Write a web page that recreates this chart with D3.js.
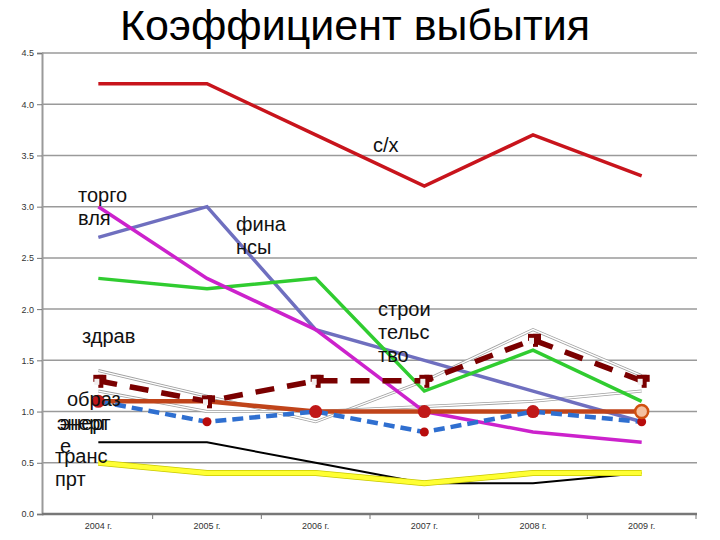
<!DOCTYPE html>
<html lang="ru">
<head>
<meta charset="UTF-8">
<title>Коэффициент выбытия</title>
<script src="https://cdn.jsdelivr.net/npm/d3@7"></script>
<style>
  body { margin: 0; background: #fff; }
  text { font-family: "Liberation Sans", Arial, sans-serif; }
</style>
</head>
<body>
<script>
    const years = ['2004 г.', '2005 г.', '2006 г.', '2007 г.', '2008 г.', '2009 г.']
    const yTicks = [0, 0.5, 1, 1.5, 2, 2.5, 3, 3.5, 4, 4.5]

    const sx = [4.2, 4.2, 3.7, 3.2, 3.7, 3.3]
    const trade = [3.0, 2.3, 1.8, 1.0, 0.8, 0.7]
    const finance = [2.7, 3.0, 1.8, 1.5, 1.2, 0.9]
    const build = [2.3, 2.2, 2.3, 1.2, 1.6, 1.1]
    const health = [1.4, 1.15, 0.9, 1.3, 1.8, 1.35]
    const thinOther = [1.2, 1.0, 1.0, 1.05, 1.1, 1.2]
    const educ = [1.1, 1.1, 1.0, 1.0, 1.0, 1.0]
    const energy = [1.1, 0.9, 1.0, 0.8, 1.0, 0.9]
    const darkDash = [1.3, 1.1, 1.3, 1.3, 1.7, 1.3]
    const blackLine = [0.7, 0.7, 0.5, 0.3, 0.3, 0.4]
    const transport = [0.5, 0.4, 0.4, 0.3, 0.4, 0.4]

    const [width, height] = [720, 540]
    const [mLeft, mRight, mTop, mBottom] = [42, 697, 53, 514]

    const x = d3.scaleBand().domain(years).range([mLeft + 2, mRight - 1])
    const y = d3.scaleLinear().domain([0, 4.5]).range([mBottom, mTop])
    const cx = i => x(years[i]) + x.bandwidth() / 2

    const svg = d3.select('body').append('svg')
        .attr('width', width)
        .attr('height', height)

    // title
    svg.append('text')
        .attr('x', 355).attr('y', 40)
        .attr('text-anchor', 'middle')
        .attr('font-size', 43)
        .text('Коэффициент выбытия')

    // grid
    svg.append('g').selectAll('line').data(yTicks.filter(d => d > 0))
        .enter().append('line')
        .attr('x1', mLeft).attr('x2', mRight)
        .attr('y1', d => y(d)).attr('y2', d => y(d))
        .attr('stroke', '#9a9a9a').attr('stroke-width', 1.5)

    // y axis
    const yAxis = svg.append('g')
        .attr('transform', `translate(${mLeft},0)`)
        .call(d3.axisLeft(y).tickValues(yTicks).tickFormat(d3.format('.1f')).tickSize(5))
    yAxis.select('.domain').attr('stroke', '#9a9a9a').attr('stroke-width', 2)
    yAxis.selectAll('.tick line').attr('stroke', '#777')
    yAxis.selectAll('text').attr('font-size', 9).attr('fill', '#333')
        .attr('font-family', '"Liberation Sans", Arial, sans-serif')

    // x axis
    const xAxis = svg.append('g')
        .attr('transform', `translate(0,${mBottom})`)
        .call(d3.axisBottom(x).tickSize(0).tickPadding(9))
    xAxis.select('.domain').attr('stroke', '#777').attr('stroke-width', 2.5)
        .attr('d', `M${mLeft},0H${mRight}`)
    xAxis.selectAll('text').attr('font-size', 9).attr('fill', '#333')
        .attr('font-family', '"Liberation Sans", Arial, sans-serif')
    xAxis.selectAll('line.sep').data(years)
        .enter().append('line').attr('class', 'sep')
        .attr('x1', d => x(d) + x.bandwidth()).attr('x2', d => x(d) + x.bandwidth())
        .attr('y1', 0).attr('y2', 5)
        .attr('stroke', '#777')

    const line = d3.line()
        .x((d, i) => cx(i))
        .y(d => y(d))

    const draw = (data, stroke, w, dash) => svg.append('path')
        .attr('d', line(data))
        .attr('fill', 'none')
        .attr('stroke', stroke)
        .attr('stroke-width', w)
        .attr('stroke-dasharray', dash || null)
        .attr('stroke-linejoin', 'miter')

    // thin double lines
    ;[health, thinOther].forEach(s => {
        draw(s, '#a0a0a0', 3)
        draw(s, '#ffffff', 1.4)
    })

    draw(blackLine, '#000', 2)
    draw(transport, '#c8c800', 6)
    draw(transport, '#ffff33', 4.5)
    draw(sx, '#c8141c', 3.5)
    draw(finance, '#6f6fbf', 3.5)
    draw(build, '#30cc30', 3.5)
    draw(trade, '#cc22cc', 3.5)
    draw(educ, '#c0441a', 4.5)
    draw(energy, '#2f6fd0', 4.5, '11,6')
    draw(darkDash, '#7a0000', 5.5, '19,13')

    // markers
    svg.append('g').selectAll('circle').data(energy)
        .enter().append('circle')
        .attr('cx', (d, i) => cx(i)).attr('cy', d => y(d))
        .attr('r', 4.5).attr('fill', '#b80c0c')

    svg.append('g').selectAll('circle').data(educ)
        .enter().append('circle')
        .attr('cx', (d, i) => cx(i)).attr('cy', d => y(d))
        .attr('r', (d, i) => i === 1 ? 0 : 6.5)
        .attr('fill', (d, i) => i === 5 ? '#f4c0a0' : '#c01818')
        .attr('stroke', (d, i) => i === 5 ? '#d05010' : 'none')
        .attr('stroke-width', 2.5)

    const sq = svg.append('g').selectAll('g').data(darkDash)
        .enter().append('g')
        .attr('transform', (d, i) => `translate(${cx(i)},${y(d)})`)
    sq.append('rect').attr('x', -5).attr('y', -6).attr('width', 13).attr('height', 7).attr('fill', '#7a0000')
    sq.append('rect').attr('x', 0).attr('y', -6).attr('width', 5).attr('height', 13).attr('fill', '#7a0000')
    sq.append('rect').attr('x', -4).attr('y', -2).attr('width', 5).attr('height', 6).attr('fill', '#f2eeee')

    // series labels
    const labels = [
        { t: ['торго', 'вля'], x: 78, y: 202 },
        { t: ['фина', 'нсы'], x: 236, y: 231 },
        { t: ['с/х'], x: 373, y: 152 },
        { t: ['строи', 'тельс', 'тво'], x: 378, y: 316 },
        { t: ['здрав'], x: 82, y: 343 },
        { t: ['образ'], x: 67, y: 406 },
        { t: ['энерг', 'е'], x: 60, y: 430 },
        { t: ['энерг'], x: 57, y: 430 },
        { t: ['транс', 'прт'], x: 55, y: 463 }
    ]
    labels.forEach(l => {
        svg.append('g').selectAll('text').data(l.t)
            .enter().append('text')
            .attr('x', l.x).attr('y', (d, i) => l.y + i * 23)
            .attr('font-size', 20).attr('fill', '#111')
            .text(d => d)
    })
</script>
</body>
</html>
